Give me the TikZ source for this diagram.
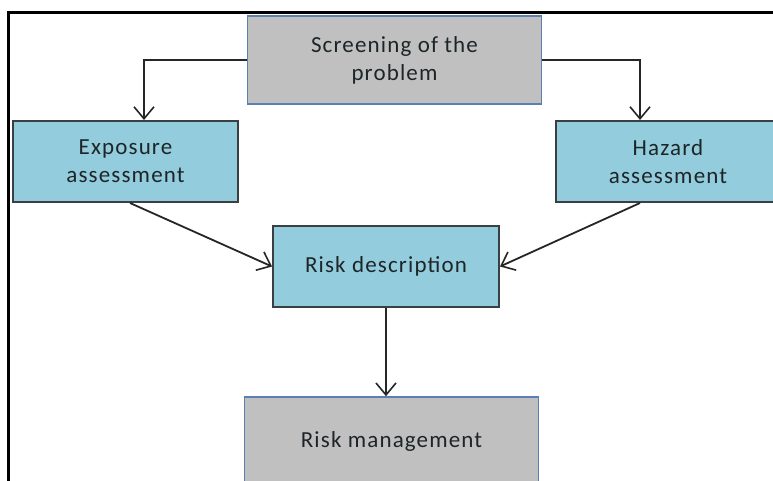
\documentclass[tikz,border=0pt]{standalone}
\usepackage{fontspec}
\setmainfont{Carlito}[LetterSpace=5]
\usepackage{tikz}
\usepackage{xcolor}
\usetikzlibrary{
    arrows.meta,
    shapes
}
\definecolor{boxblue}{HTML}{93CDDD}
\definecolor{boxgray}{HTML}{C0C0C0}
\definecolor{edgeblue}{HTML}{5B7FB5}
\definecolor{edgedark}{HTML}{3A3F42}
\definecolor{txtdark}{HTML}{1E2528}
\tikzset{
    stagebox/.style={draw=edgedark, fill=boxblue, line width=2pt, minimum width=225pt, minimum height=81pt, align=center, text=txtdark, font=\fontsize{23}{28}\selectfont},
    mainbox/.style={draw=edgeblue, fill=boxgray, line width=1.6pt, minimum width=294pt, minimum height=88pt, align=center, text=txtdark, font=\fontsize{23}{28}\selectfont},
    flow/.style={->, >={Straight Barb[length=12pt, width=20pt, line width=1.6pt]}, line width=1.8pt, draw=black!85}
}

\begin{document}
\begin{tikzpicture}[x=1pt, y=-1pt]
            \clip (0,0) rectangle (773,480);
            \useasboundingbox (0,0) rectangle (773,480);
            \fill[white] (0,0) rectangle (773,480);
            \draw[line width=3pt] (8,490) -- (8,12) -- (790,12);

            \node[mainbox] (screen) at (394.5, 60) {Screening of the\\problem};
            \node[stagebox] (expo) at (125.5, 161.5) {Exposure\\assessment};
            \node[stagebox] (hazard) at (668, 161.5) {Hazard\\assessment};
            \node[stagebox, minimum width=226pt] (riskdesc) at (386, 266.5) {Risk description};
            \node[mainbox] (riskman) at (391.5, 441) {Risk management};

            \draw[flow] (screen.west) -| ([xshift=18.5pt]expo.north);
            \draw[flow] (screen.east) -| ([xshift=-28pt]hazard.north);
            \draw[flow] ([xshift=4.5pt]expo.south) -- (riskdesc.west);
            \draw[flow] ([xshift=-28pt]hazard.south) -- (riskdesc.east);
            \draw[flow] (riskdesc.south) -- (riskdesc.south |- riskman.north);
            \end{tikzpicture}
\end{document}
